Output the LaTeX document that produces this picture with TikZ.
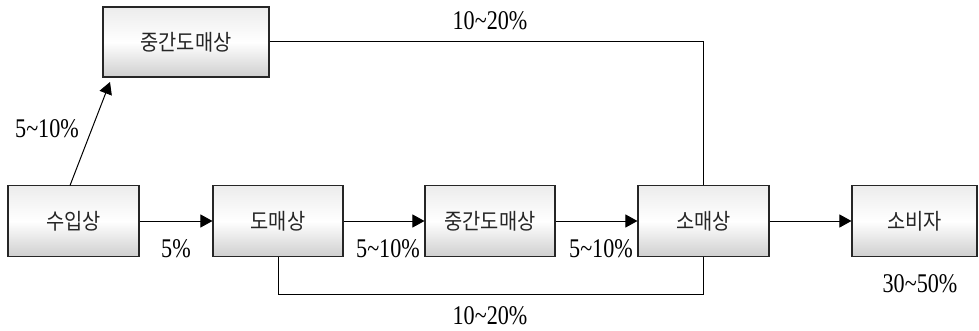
\documentclass[tikz,border=0pt]{standalone}
\usepackage{fontspec}
\usetikzlibrary{arrows.meta,calc}
\newfontfamily\krfont{Noto Sans CJK KR}[FakeStretch=0.9]
\newfontfamily\numfont{Liberation Serif}[FakeStretch=0.82]
\newcommand{\tl}{\textasciitilde}
\tikzset{
  boxnode/.style={draw=black!85, line width=1.1pt, top color=gray!15, bottom color=gray!38, middle color=white,
    minimum height=71pt, inner sep=0pt, text=black!85, font=\krfont\fontsize{22}{22}\selectfont},
  conn/.style={line width=1pt, draw=black},
  arr/.style={conn, -{Triangle[length=12pt,width=13pt]}},
  pct/.style={inner sep=0pt, font=\numfont\fontsize{27}{27}\selectfont}
}
\begin{document}
\begin{tikzpicture}[x=1pt,y=-1pt]
\useasboundingbox (0,0) rectangle (979,331);
\node[boxnode, minimum width=166pt, minimum height=70pt] (mid1) at (186,42) {중간도매상};
\node[boxnode, minimum width=131pt] (imp) at (73.5,221) {수입상};
\node[boxnode, minimum width=130pt] (whole) at (278,221) {도매상};
\node[boxnode, minimum width=130pt] (mid2) at (490,221) {중간도매상};
\node[boxnode, minimum width=131pt] (ret) at (703.5,221) {소매상};
\node[boxnode, minimum width=125pt] (cons) at (914.5,221) {소비자};

\coordinate (d1) at (70,185.5);
\coordinate (d2) at (110,82);
\draw[arr] (d1) -- (d2);
\draw[arr] (imp) -- (whole);
\draw[arr] (whole) -- (mid2);
\draw[arr] (mid2) -- (ret);
\draw[arr] (ret) -- (cons);
\draw[conn] (mid1.east) -| (ret.north);
\coordinate (bl) at (278,294);
\draw[conn] (whole.south) -- (bl) -| (ret.south);

\node[pct] (l1) at (47,129) {5\tl10\%};
\node[pct] (l2) at (490,21) {10\tl20\%};
\node[pct] (l3) at (176,249) {5\%};
\node[pct] (l4) at (388,249) {5\tl10\%};
\node[pct] (l5) at (601,249) {5\tl10\%};
\node[pct] (l6) at (490,316) {10\tl20\%};
\node[pct] (l7) at (920,284) {30\tl50\%};
\end{tikzpicture}
\end{document}
